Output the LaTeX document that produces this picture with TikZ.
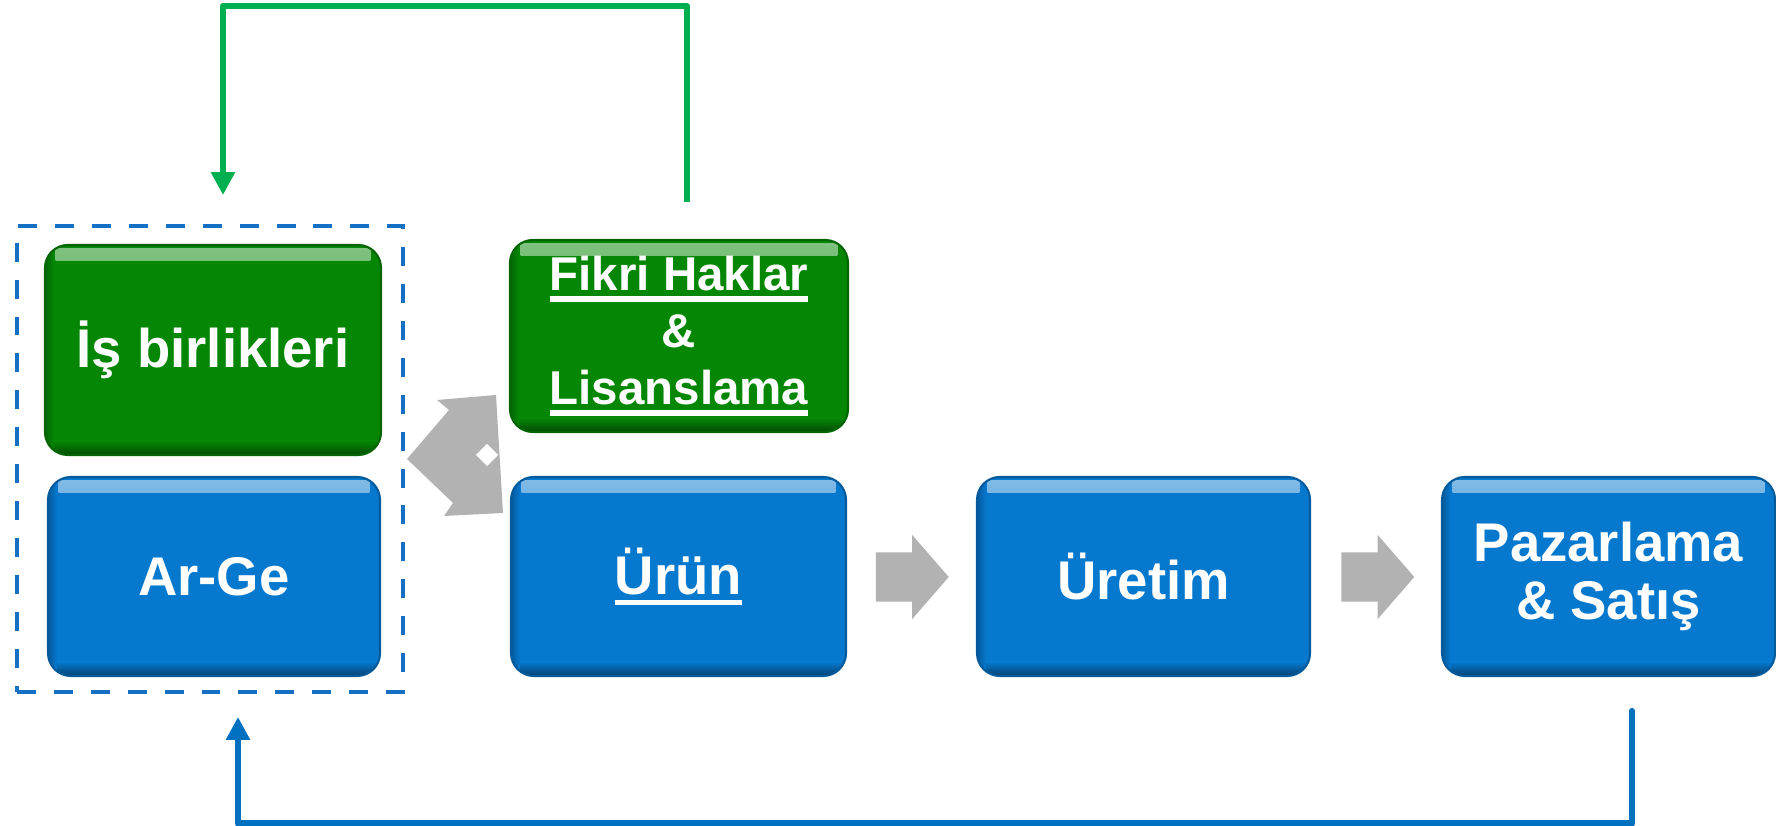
\documentclass[tikz,border=0pt]{standalone}
\usepackage{fontspec}
\setmainfont{Liberation Sans}
\usetikzlibrary{arrows.meta,shapes.arrows}

\definecolor{argeblue}{HTML}{0678CE}
\definecolor{isgreen}{HTML}{058705}
\definecolor{dashblue}{HTML}{1570C4}
\definecolor{loopgreen}{HTML}{00B050}
\definecolor{loopblue}{HTML}{0070C0}
\definecolor{arrowgray}{HTML}{B2B2B2}

\newcommand{\undl}[1]{\setbox0\hbox{#1}\rlap{\rule[-3.1pt]{\wd0}{1.5pt}}\box0}

\tikzset{
  bevelbox/.style={rounded corners=6.5pt, align=center, text=white, inner sep=0pt,
    font=\bfseries\fontsize{15.5}{16.4}\selectfont,
    fill=#1, draw=#1!75!black, line width=0.6pt,
    path picture={
      \fill[sharp corners, top color=#1!50!white, bottom color=#1] ([xshift=3pt,yshift=-1pt]path picture bounding box.north west) rectangle ([xshift=-3pt,yshift=-4.5pt]path picture bounding box.north east);
      \fill[sharp corners, top color=#1, bottom color=#1!55!black] ([yshift=4pt]path picture bounding box.south west) rectangle (path picture bounding box.south east);
      \fill[sharp corners, left color=#1!75!black, right color=#1] (path picture bounding box.south west) rectangle ([xshift=2.5pt]path picture bounding box.north west);
    }},
  garrow/.style={single arrow, fill=arrowgray, draw=none, inner xsep=0pt, inner ysep=0.24cm,
    minimum height=0.73cm, single arrow head extend=0.175cm, single arrow tip angle=98},
  loop/.style={line width=1.8pt, line join=round, -{Triangle[width=0.23cm,length=0.23cm]}}
}

\begin{document}
\begin{tikzpicture}
  \useasboundingbox (0,0) rectangle (17.76,8.26);

  % group frame
  \node[draw=dashblue, dash pattern=on 5.4pt off 5.1pt, line width=1.1pt,
        minimum width=3.86cm, minimum height=4.66cm, inner sep=0pt] (grp) at (2.10,3.67) {};

  % boxes
  \node[bevelbox=isgreen, minimum width=3.36cm, minimum height=2.10cm] (isb) at (2.13,4.76) {İş birlikleri};
  \node[bevelbox=argeblue, minimum width=3.32cm, minimum height=1.99cm] (arge) at (2.14,2.495) {Ar-Ge};
  \node[bevelbox=isgreen, minimum width=3.38cm, minimum height=1.92cm,
        font=\bfseries\fontsize{13.5}{16.2}\selectfont] (fikri) at (6.79,4.90) {\undl{Fikri Haklar}\\\&\\\undl{Lisanslama}};
  \node[bevelbox=argeblue, minimum width=3.35cm, minimum height=1.99cm] (urun) at (6.785,2.495) {\undl{Ürün}};
  \node[bevelbox=argeblue, minimum width=3.33cm, minimum height=1.99cm] (uretim) at (11.435,2.495) {Üretim};
  \node[bevelbox=argeblue, minimum width=3.33cm, minimum height=1.99cm] (pazar) at (16.085,2.495) {Pazarlama\\\& Satış};

  % gray flow arrows
  \node[garrow] (a1) at (9.015,2.49) {};
  \node[garrow] (a2) at (13.67,2.49) {};
  \fill[arrowgray] (4.37,4.26) -- (4.96,4.31) -- (5.03,3.13) -- (4.44,3.10) -- (4.53,3.23) -- (4.07,3.67) -- (4.49,4.16) -- cycle;
  \fill[white] (4.87,3.82) -- (4.98,3.71) -- (4.87,3.60) -- (4.76,3.71) -- cycle;

  % feedback loops
  \coordinate (g0) at ([xshift=0.08cm,yshift=0.37cm]fikri.north);
  \coordinate (g1) at ([xshift=0.13cm,yshift=0.29cm]grp.north);
  \draw[loop, loopgreen] (g0) -- ++(0,1.96) -| (g1);

  \coordinate (b0) at ([xshift=0.235cm,yshift=-0.34cm]pazar.south);
  \coordinate (b1) at ([xshift=0.28cm,yshift=-0.23cm]grp.south);
  \draw[loop, loopblue, line cap=round] (b0) -- ++(0,-1.125) -| (b1);
\end{tikzpicture}
\end{document}
